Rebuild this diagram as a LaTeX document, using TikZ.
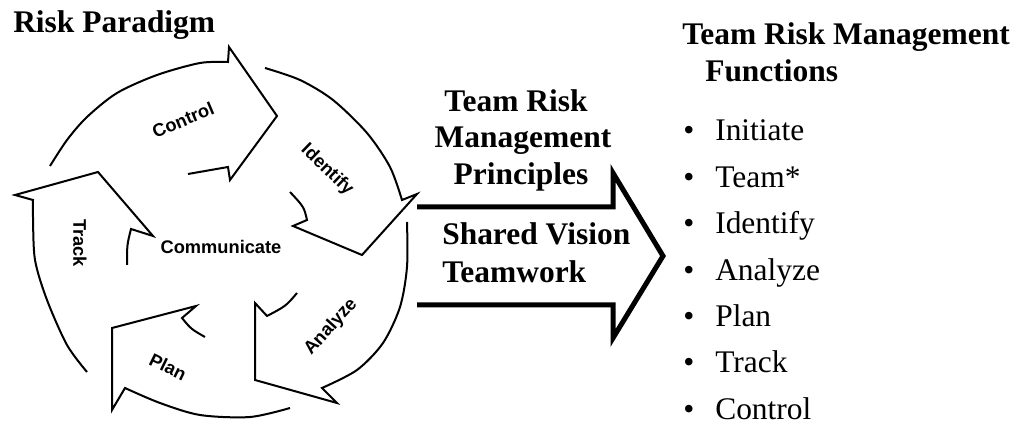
\documentclass[tikz,border=0pt]{standalone}
\usepackage{fontspec}
\setmainfont{Liberation Serif}
\newfontfamily\arialfont{Liberation Sans}

\tikzset{
  ciclo/.style={line width=1.5pt,line join=miter,black},
  flecha/.style={line width=3.75pt,line join=miter,black},
  etiqueta/.style={font=\arialfont\bfseries\fontsize{13.7}{16}\selectfont,inner sep=0pt},
  titulo/.style={font=\bfseries\fontsize{23.6}{27}\selectfont,inner sep=0pt},
  funcitem/.style={font=\fontsize{23.6}{27}\selectfont,inner sep=0pt,anchor=base west},
}

\begin{document}
\begin{tikzpicture}[x=0.75pt,y=-0.75pt]
\useasboundingbox (0,0) rectangle (1031,423);

    %Titulos
    \node[titulo,anchor=base west] (paradigma) at (13,33) {Risk Paradigm};
    \node[titulo,anchor=base west] (funciones) at (682,45) {Team Risk Management};
    \node[titulo,anchor=base west] (funciones2) at (705,82) {Functions};

    %Ciclo de flechas
    \draw[ciclo] plot[smooth] coordinates {(50,166) (67,140) (87,117) (117,93) (157,75) (200,63) (228,62)}
        -- (229,47) -- (277,116) -- (230,180) -- (228,167) -- (188,174);
    \draw[ciclo] plot[smooth] coordinates {(265,68) (300,80) (333,100) (367,133) (390,167) (402,200)}
        -- (417,194) -- (362,255) -- (293,226) -- (307,220) .. controls (304,207) .. (290,192);
    \draw[ciclo] plot[smooth] coordinates {(407,222) (407,267) (400,307) (383,343) (357,370) (322,388)}
        -- (337,403) -- (255,380) -- (255,303) -- (267,316) .. controls (286,306) .. (297,293);
    \draw[ciclo] plot[smooth] coordinates {(290,408) (250,417) (200,415) (160,403) (125,388)}
        -- (112,410) -- (112,328) -- (196,306) -- (182,318) .. controls (191,329) .. (205,337);
    \draw[ciclo] plot[smooth] coordinates {(87,372) (67,345) (47,300) (35,260) (33,217) (33,200)}
        -- (15,195) -- (98,172) -- (153,236) -- (131,229) .. controls (127,245) .. (127,265);

    \node[etiqueta,rotate=23] (control) at (183,120) {Control};
    \node[etiqueta,rotate=-44] (identify) at (327,170) {Identify};
    \node[etiqueta,rotate=48] (analyze) at (331,327) {Analyze};
    \node[etiqueta,rotate=-26] (plan) at (168,367) {Plan};
    \node[etiqueta,rotate=-90] (track) at (80,243) {Track};
    \node[etiqueta] (communicate) at (221,247) {Communicate};

    %Flecha grande
    \draw[flecha] (417,207) -- (613,207) -- (613,173) -- (663,256) -- (613,338) -- (613,305) -- (417,305);
    \node[titulo,anchor=base] (principios1) at (516,112) {Team Risk};
    \node[titulo,anchor=base] (principios2) at (523,148) {Management};
    \node[titulo,anchor=base] (principios3) at (521,185) {Principles};
    \node[titulo,anchor=base west] (vision) at (442,245) {Shared Vision};
    \node[titulo,anchor=base west] (teamwork) at (442,283) {Teamwork};

    %Lista de funciones
    \foreach \f [count=\i from 0,evaluate={\yb=141+46.4*\i}] in {Initiate,Team*,Identify,Analyze,Plan,Track,Control}{
        \node[funcitem] (bala\i) at (683,\yb) {\textbullet};
        \node[funcitem] (func\i) at (715,\yb) {\f};
    }
\end{tikzpicture}
\end{document}
